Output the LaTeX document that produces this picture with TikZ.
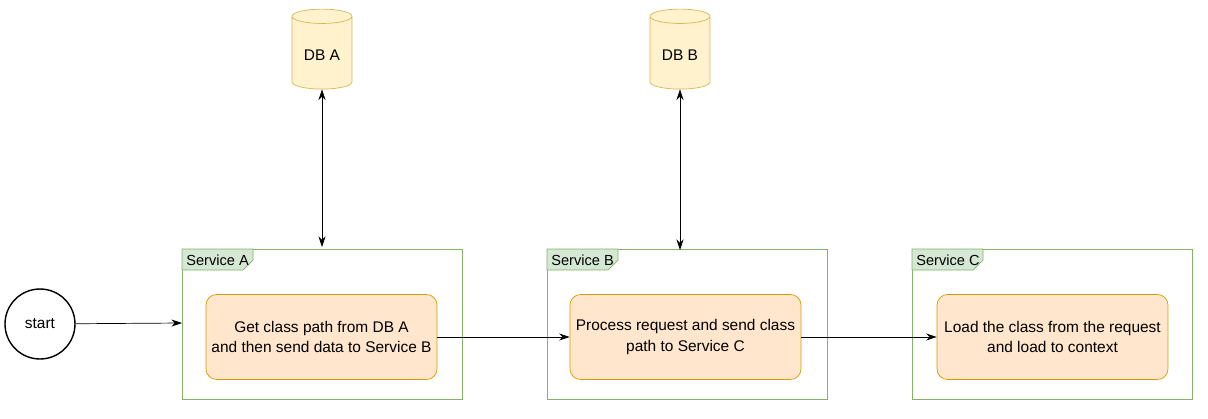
\documentclass[tikz,border=0pt]{standalone}
\usepackage{fontspec}
\setmainfont{Liberation Sans}
\usetikzlibrary{shapes.geometric, arrows.meta, positioning}
\definecolor{grnline}{HTML}{82B366}
\definecolor{grnfill}{HTML}{D5E8D4}
\definecolor{orgline}{HTML}{D79B00}
\definecolor{orgfill}{HTML}{FFE6CC}
\definecolor{ylwline}{HTML}{D6B656}
\definecolor{ylwfill}{HTML}{FFF2CC}
\begin{document}
\begin{tikzpicture}[
    x=0.02cm, y=-0.02cm,
    every node/.style={font=\fontsize{8.8pt}{11.5pt}\selectfont},
    frame/.style={draw=grnline, minimum width=5.6cm, minimum height=3cm, anchor=north west, inner sep=0pt},
    task/.style={rectangle, draw=orgline, fill=orgfill, rounded corners=6pt, minimum width=4.62cm, minimum height=1.7cm, align=center, inner sep=0pt},
    db/.style={cylinder, draw=ylwline, fill=ylwfill, shape border rotate=90, aspect=0.3, minimum height=1.6cm, minimum width=1.2cm},
    tab/.style={draw=grnline, fill=grnfill},
    arrow/.style={-{Stealth[length=6pt,width=4pt]}},
    twoway/.style={{Stealth[length=6pt,width=4pt]}-{Stealth[length=6pt,width=4pt]}}
]
\useasboundingbox (0,0) rectangle (1208,419);

% start
\node[circle, draw, thick, minimum size=1.4cm] (start) at (40,324) {start};

% service frames with tabs
\foreach \x/\name/\lbl in {182/fa/A, 547/fb/B, 912/fc/C} {
  \node[frame] (\name) at (\x,249) {};
  \draw[tab] (\x,249) -- ++(71,0) -- ++(0,11) -- ++(-10,10) -- (\x,270) -- cycle;
  \node[anchor=west, inner sep=0pt, font=\fontsize{8.3pt}{10pt}\selectfont] at (\x+4,260) {Service \lbl};
}

% tasks
\node[task] (ta) at (321.5,337) {Get class path from DB A\\and then send data to Service B};
\node[task] (tb) at (685.5,337) {Process request and send class\\path to Service C};
\node[task] (tc) at (1052.5,337) {Load the class from the request\\and load to context};

% databases
\node[db] (dba) at (322,55) {DB A};
\node[db] (dbb) at (680,55) {DB B};

% arrows
\draw[arrow] (start) -- (fa.west |- 0,323);
\draw[arrow] (ta) -- (tb);
\draw[arrow] (tb) -- (tc);
\draw[twoway] (dba.bottom) -- (322,247);
\draw[twoway] (dbb.bottom) -- (680,250);
\end{tikzpicture}
\end{document}
